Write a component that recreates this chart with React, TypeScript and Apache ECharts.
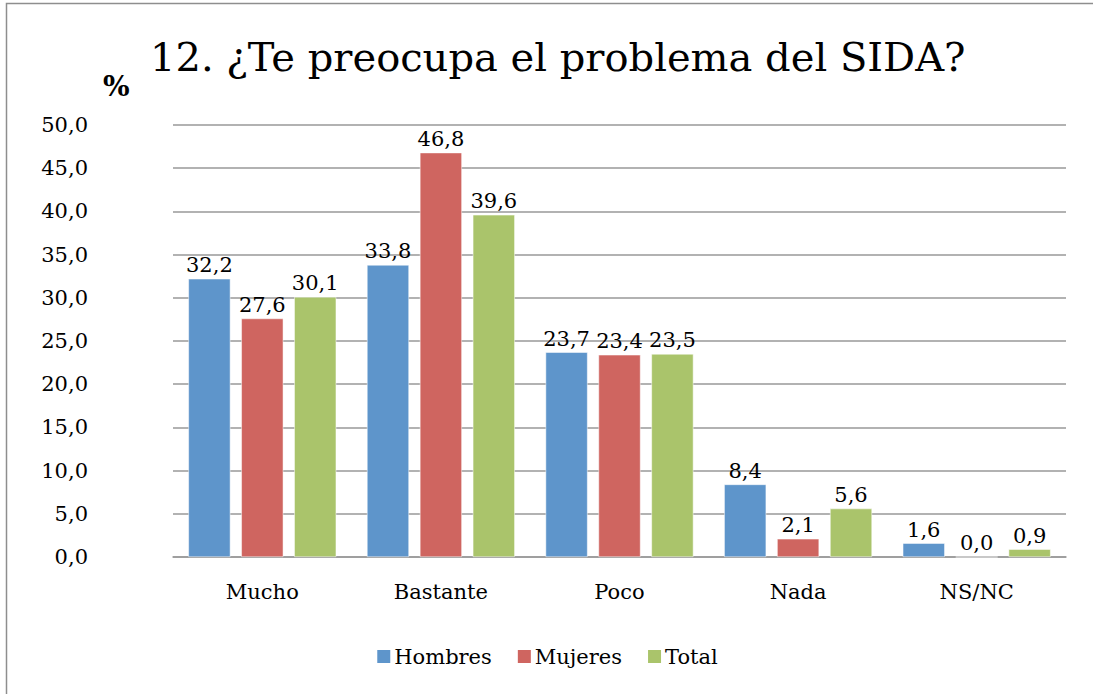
import React, { useEffect, useRef } from "react";
import * as echarts from "echarts";

const categories = ["Mucho", "Bastante", "Poco", "Nada", "NS/NC"];
const hombres = [32.2, 33.8, 23.7, 8.4, 1.6];
const mujeres = [27.6, 46.8, 23.4, 2.1, 0.0];
const total = [30.1, 39.6, 23.5, 5.6, 0.9];
const seriesNames = ["Hombres", "Mujeres", "Total"];
const colors = ["#5E95CB", "#CF6560", "#AAC46B"];
const titleText = "12. ¿Te preocupa el problema del SIDA?";

const FONT = "DejaVu Serif";
const fmt = (v: number) => v.toFixed(1).replace(".", ",");

export default function App() {
  const ref = useRef<HTMLDivElement>(null);
  useEffect(() => {
    if (!ref.current) return;
    const chart = echarts.init(ref.current, null, { renderer: "svg" });
    const data = [hombres, mujeres, total];
    chart.setOption({
      animation: false,
      backgroundColor: "#ffffff",
      textStyle: { fontFamily: FONT, color: "#000" },
      graphic: [
        {
          type: "rect",
          shape: { x: 6.5, y: 3.5, width: 1300, height: 900 },
          style: { fill: "none", stroke: "#8e8e8e", lineWidth: 1.5 },
          silent: true,
        },
        {
          type: "text",
          left: 150,
          top: 37,
          style: { text: titleText, font: `40px "${FONT}"`, fill: "#000" },
        },
        {
          type: "text",
          left: 103,
          top: 72,
          style: { text: "%", font: `bold 28px "${FONT}"`, fill: "#000" },
        },
      ],
      legend: {
        data: seriesNames,
        top: 641,
        left: "center",
        icon: "rect",
        itemWidth: 15,
        itemHeight: 15,
        itemGap: 24,
        textStyle: { fontFamily: FONT, fontSize: 21, color: "#000", padding: [0, 0, 0, -2] },
      },
      grid: { left: 173, right: 27, top: 125, bottom: 137 },
      xAxis: {
        type: "category",
        data: categories,
        axisTick: { show: false },
        axisLine: { lineStyle: { color: "#999", width: 1.5 } },
        axisLabel: { fontFamily: FONT, fontSize: 21, color: "#000", margin: 24 },
      },
      yAxis: {
        type: "value",
        min: 0,
        max: 50,
        interval: 5,
        axisLine: { show: false },
        axisTick: { show: false },
        splitLine: { lineStyle: { color: "#999", width: 1.5 } },
        axisLabel: {
          fontFamily: FONT,
          fontSize: 21,
          color: "#000",
          margin: 85,
          formatter: (v: number) => fmt(v),
        },
      },
      series: seriesNames.map((name, i) => ({
        name,
        type: "bar",
        data: data[i],
        barWidth: 42,
        barGap: "26%",
        itemStyle: { color: colors[i], borderColor: "#fff", borderWidth: 0.5 },
        label: {
          show: true,
          position: "top",
          distance: 3,
          fontFamily: FONT,
          fontSize: 21,
          color: "#000",
          formatter: (p: any) => fmt(p.value),
        },
      })),
    });
    return () => chart.dispose();
  }, []);
  return (
    <div
      ref={ref}
      style={{ position: "fixed", left: 0, top: 0, width: 1093, height: 694 }}
    />
  );
}
